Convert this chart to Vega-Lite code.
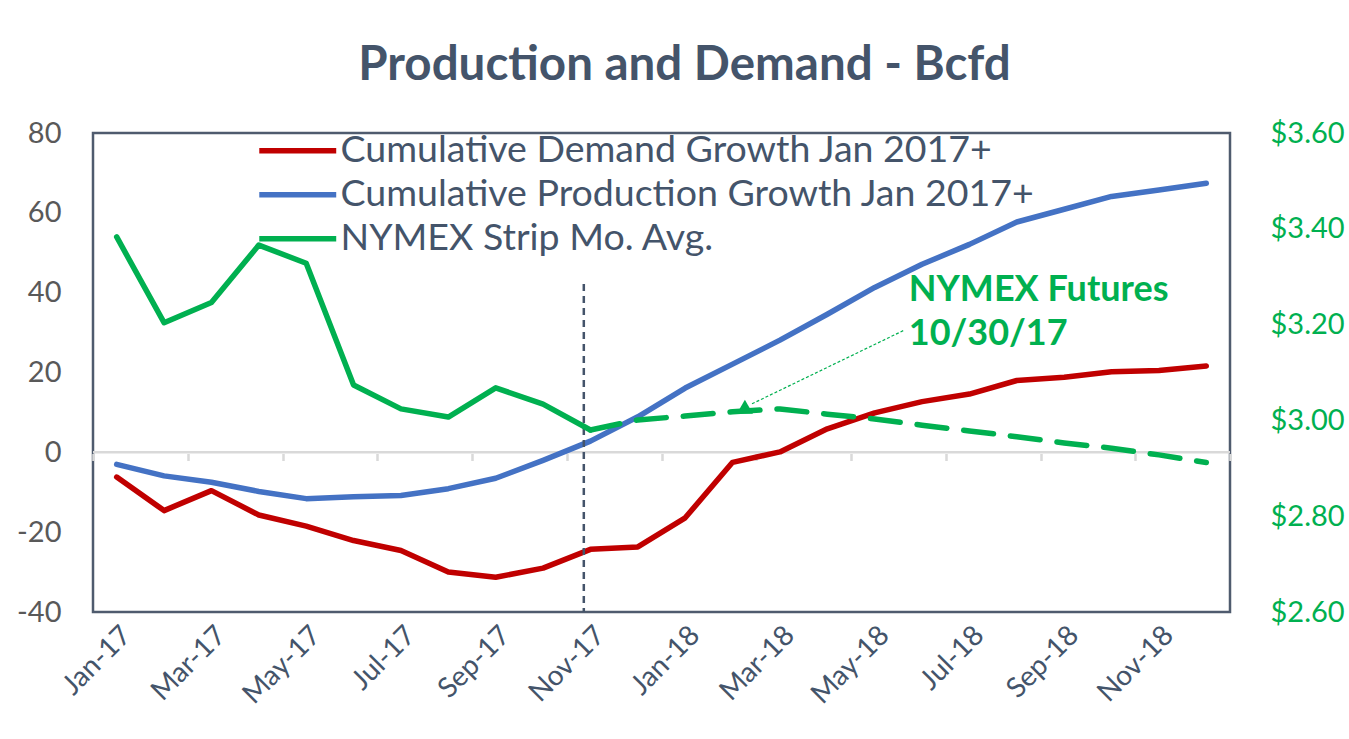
{
  "$schema": "https://vega.github.io/schema/vega-lite/v6.json",
  "width": 1137,
  "height": 479,
  "autosize": {"type": "none"},
  "padding": {"left": 93, "top": 133, "right": 119, "bottom": 127},
  "background": "white",
  "title": {
    "text": "Production and Demand - Bcfd",
    "font": "Lato",
    "fontSize": 47.5,
    "fontWeight": "bold",
    "color": "#44546A",
    "anchor": "middle",
    "frame": "group",
    "dx": 23,
    "offset": 30
  },
  "config": {
    "view": {"stroke": "#4F5B6E", "strokeWidth": 2.5},
    "font": "Lato"
  },
  "datasets": {
    "growth": [
      {"i": 0, "month": "Jan-17", "series": "Cumulative Demand Growth Jan 2017+", "value": -6.2},
      {"i": 1, "month": "Feb-17", "series": "Cumulative Demand Growth Jan 2017+", "value": -14.6},
      {"i": 2, "month": "Mar-17", "series": "Cumulative Demand Growth Jan 2017+", "value": -9.6},
      {"i": 3, "month": "Apr-17", "series": "Cumulative Demand Growth Jan 2017+", "value": -15.7},
      {"i": 4, "month": "May-17", "series": "Cumulative Demand Growth Jan 2017+", "value": -18.5},
      {"i": 5, "month": "Jun-17", "series": "Cumulative Demand Growth Jan 2017+", "value": -22.1},
      {"i": 6, "month": "Jul-17", "series": "Cumulative Demand Growth Jan 2017+", "value": -24.6},
      {"i": 7, "month": "Aug-17", "series": "Cumulative Demand Growth Jan 2017+", "value": -30.0},
      {"i": 8, "month": "Sep-17", "series": "Cumulative Demand Growth Jan 2017+", "value": -31.3},
      {"i": 9, "month": "Oct-17", "series": "Cumulative Demand Growth Jan 2017+", "value": -29.0},
      {"i": 10, "month": "Nov-17", "series": "Cumulative Demand Growth Jan 2017+", "value": -24.3},
      {"i": 11, "month": "Dec-17", "series": "Cumulative Demand Growth Jan 2017+", "value": -23.7},
      {"i": 12, "month": "Jan-18", "series": "Cumulative Demand Growth Jan 2017+", "value": -16.4},
      {"i": 13, "month": "Feb-18", "series": "Cumulative Demand Growth Jan 2017+", "value": -2.5},
      {"i": 14, "month": "Mar-18", "series": "Cumulative Demand Growth Jan 2017+", "value": 0.1},
      {"i": 15, "month": "Apr-18", "series": "Cumulative Demand Growth Jan 2017+", "value": 5.9},
      {"i": 16, "month": "May-18", "series": "Cumulative Demand Growth Jan 2017+", "value": 9.9},
      {"i": 17, "month": "Jun-18", "series": "Cumulative Demand Growth Jan 2017+", "value": 12.7},
      {"i": 18, "month": "Jul-18", "series": "Cumulative Demand Growth Jan 2017+", "value": 14.6},
      {"i": 19, "month": "Aug-18", "series": "Cumulative Demand Growth Jan 2017+", "value": 18.0},
      {"i": 20, "month": "Sep-18", "series": "Cumulative Demand Growth Jan 2017+", "value": 18.8},
      {"i": 21, "month": "Oct-18", "series": "Cumulative Demand Growth Jan 2017+", "value": 20.2},
      {"i": 22, "month": "Nov-18", "series": "Cumulative Demand Growth Jan 2017+", "value": 20.5},
      {"i": 23, "month": "Dec-18", "series": "Cumulative Demand Growth Jan 2017+", "value": 21.6},
      {"i": 0, "month": "Jan-17", "series": "Cumulative Production Growth Jan 2017+", "value": -3.0},
      {"i": 1, "month": "Feb-17", "series": "Cumulative Production Growth Jan 2017+", "value": -5.9},
      {"i": 2, "month": "Mar-17", "series": "Cumulative Production Growth Jan 2017+", "value": -7.5},
      {"i": 3, "month": "Apr-17", "series": "Cumulative Production Growth Jan 2017+", "value": -9.8},
      {"i": 4, "month": "May-17", "series": "Cumulative Production Growth Jan 2017+", "value": -11.6},
      {"i": 5, "month": "Jun-17", "series": "Cumulative Production Growth Jan 2017+", "value": -11.1},
      {"i": 6, "month": "Jul-17", "series": "Cumulative Production Growth Jan 2017+", "value": -10.8},
      {"i": 7, "month": "Aug-17", "series": "Cumulative Production Growth Jan 2017+", "value": -9.1},
      {"i": 8, "month": "Sep-17", "series": "Cumulative Production Growth Jan 2017+", "value": -6.5},
      {"i": 9, "month": "Oct-17", "series": "Cumulative Production Growth Jan 2017+", "value": -2.0},
      {"i": 10, "month": "Nov-17", "series": "Cumulative Production Growth Jan 2017+", "value": 2.8},
      {"i": 11, "month": "Dec-17", "series": "Cumulative Production Growth Jan 2017+", "value": 8.9},
      {"i": 12, "month": "Jan-18", "series": "Cumulative Production Growth Jan 2017+", "value": 16.1},
      {"i": 13, "month": "Feb-18", "series": "Cumulative Production Growth Jan 2017+", "value": 22.1},
      {"i": 14, "month": "Mar-18", "series": "Cumulative Production Growth Jan 2017+", "value": 28.1},
      {"i": 15, "month": "Apr-18", "series": "Cumulative Production Growth Jan 2017+", "value": 34.6},
      {"i": 16, "month": "May-18", "series": "Cumulative Production Growth Jan 2017+", "value": 41.3},
      {"i": 17, "month": "Jun-18", "series": "Cumulative Production Growth Jan 2017+", "value": 47.1},
      {"i": 18, "month": "Jul-18", "series": "Cumulative Production Growth Jan 2017+", "value": 52.1},
      {"i": 19, "month": "Aug-18", "series": "Cumulative Production Growth Jan 2017+", "value": 57.7},
      {"i": 20, "month": "Sep-18", "series": "Cumulative Production Growth Jan 2017+", "value": 60.9},
      {"i": 21, "month": "Oct-18", "series": "Cumulative Production Growth Jan 2017+", "value": 64.1},
      {"i": 22, "month": "Nov-18", "series": "Cumulative Production Growth Jan 2017+", "value": 65.7},
      {"i": 23, "month": "Dec-18", "series": "Cumulative Production Growth Jan 2017+", "value": 67.4}
    ],
    "nymex": [
      {"i": 0, "month": "Jan-17", "series": "NYMEX Strip Mo. Avg.", "price": 3.383},
      {"i": 1, "month": "Feb-17", "series": "NYMEX Strip Mo. Avg.", "price": 3.204},
      {"i": 2, "month": "Mar-17", "series": "NYMEX Strip Mo. Avg.", "price": 3.246},
      {"i": 3, "month": "Apr-17", "series": "NYMEX Strip Mo. Avg.", "price": 3.366},
      {"i": 4, "month": "May-17", "series": "NYMEX Strip Mo. Avg.", "price": 3.328},
      {"i": 5, "month": "Jun-17", "series": "NYMEX Strip Mo. Avg.", "price": 3.074},
      {"i": 6, "month": "Jul-17", "series": "NYMEX Strip Mo. Avg.", "price": 3.024},
      {"i": 7, "month": "Aug-17", "series": "NYMEX Strip Mo. Avg.", "price": 3.007},
      {"i": 8, "month": "Sep-17", "series": "NYMEX Strip Mo. Avg.", "price": 3.068},
      {"i": 9, "month": "Oct-17", "series": "NYMEX Strip Mo. Avg.", "price": 3.034},
      {"i": 10, "month": "Nov-17", "series": "NYMEX Strip Mo. Avg.", "price": 2.980},
      {"i": 11, "month": "Dec-17", "series": "NYMEX Strip Mo. Avg.", "price": 3.001},
      {"i": 12, "month": "Jan-18", "series": "NYMEX Strip Mo. Avg.", "price": 3.009},
      {"i": 13, "month": "Feb-18", "series": "NYMEX Strip Mo. Avg.", "price": 3.018},
      {"i": 14, "month": "Mar-18", "series": "NYMEX Strip Mo. Avg.", "price": 3.024},
      {"i": 15, "month": "Apr-18", "series": "NYMEX Strip Mo. Avg.", "price": 3.013},
      {"i": 16, "month": "May-18", "series": "NYMEX Strip Mo. Avg.", "price": 3.003},
      {"i": 17, "month": "Jun-18", "series": "NYMEX Strip Mo. Avg.", "price": 2.990},
      {"i": 18, "month": "Jul-18", "series": "NYMEX Strip Mo. Avg.", "price": 2.978},
      {"i": 19, "month": "Aug-18", "series": "NYMEX Strip Mo. Avg.", "price": 2.966},
      {"i": 20, "month": "Sep-18", "series": "NYMEX Strip Mo. Avg.", "price": 2.953},
      {"i": 21, "month": "Oct-18", "series": "NYMEX Strip Mo. Avg.", "price": 2.942},
      {"i": 22, "month": "Nov-18", "series": "NYMEX Strip Mo. Avg.", "price": 2.928},
      {"i": 23, "month": "Dec-18", "series": "NYMEX Strip Mo. Avg.", "price": 2.912}
    ],
    "zero": [{"level": 0}],
    "divider": [{"i": 9.86, "top": 42.2, "bottom": -40}],
    "callout": [{"i": 16.72, "value": 37.95, "label": "NYMEX Futures\n10/30/17"}],
    "leader": [{"i": 13.41, "value": 12.15, "i2": 16.64, "value2": 30.7}],
    "arrow": [{"i": 13.26, "value": 11.4}]
  },
  "layer": [
    {
      "layer": [
        {
          "data": {"name": "zero"},
          "mark": {"type": "rule", "color": "#D9D9D9", "strokeWidth": 2.5},
          "encoding": {
            "y": {"field": "level", "type": "quantitative", "scale": {"domain": [-40, 80], "nice": false}}
          }
        },
        {
          "data": {"name": "growth"},
          "mark": {"type": "line", "strokeWidth": 5.5, "strokeCap": "round", "strokeJoin": "round"},
          "encoding": {
            "x": {
              "field": "i",
              "type": "quantitative",
              "scale": {"domain": [-0.5, 23.5], "nice": false, "zero": false},
              "axis": {
                "title": null,
                "orient": "bottom",
                "values": [0, 2, 4, 6, 8, 10, 12, 14, 16, 18, 20, 22],
                "labelExpr": "['Jan-17','Feb-17','Mar-17','Apr-17','May-17','Jun-17','Jul-17','Aug-17','Sep-17','Oct-17','Nov-17','Dec-17','Jan-18','Feb-18','Mar-18','Apr-18','May-18','Jun-18','Jul-18','Aug-18','Sep-18','Oct-18','Nov-18','Dec-18'][datum.value]",
                "labelAngle": -45,
                "labelAlign": "right",
                "labelBaseline": "top",
                "labelFont": "Lato",
                "labelFontSize": 28,
                "labelColor": "#44546A",
                "labelPadding": 9,
                "ticks": false,
                "domain": false,
                "grid": false,
                "labelOverlap": false
              }
            },
            "y": {
              "field": "value",
              "type": "quantitative",
              "scale": {"domain": [-40, 80], "nice": false},
              "axis": {
                "title": null,
                "orient": "left",
                "values": [-40, -20, 0, 20, 40, 60, 80],
                "labelExpr": "'' + datum.value",
                "labelFont": "Lato",
                "labelFontSize": 29,
                "labelColor": "#595959",
                "labelPadding": 32,
                "ticks": false,
                "domain": false,
                "grid": false
              }
            },
            "color": {
              "field": "series",
              "type": "nominal",
              "scale": {
                "domain": ["Cumulative Demand Growth Jan 2017+", "Cumulative Production Growth Jan 2017+", "NYMEX Strip Mo. Avg."],
                "range": ["#C00000", "#4472C4", "#00B050"]
              },
              "legend": {
                "title": null,
                "orient": "none",
                "legendX": 186,
                "legendY": -1,
                "padding": 0,
                "symbolType": "M-4,0H4",
                "symbolSize": 370,
                "symbolStrokeWidth": 5.5,
                "labelFont": "Lato",
                "labelFontSize": 37.5,
                "labelColor": "#44546A",
                "labelOffset": 24,
                "labelLimit": 0,
                "rowPadding": 5
              }
            }
          }
        },
        {
          "data": {"name": "divider"},
          "mark": {"type": "rule", "color": "#44546A", "strokeWidth": 2.5, "strokeDash": [7, 5]},
          "encoding": {
            "x": {"field": "i", "type": "quantitative"},
            "y": {"field": "top", "type": "quantitative"},
            "y2": {"field": "bottom"}
          }
        },
        {
          "data": {"name": "leader"},
          "mark": {"type": "rule", "color": "#00B050", "strokeWidth": 1.2, "strokeDash": [3, 2]},
          "encoding": {
            "x": {"field": "i", "type": "quantitative"},
            "y": {"field": "value", "type": "quantitative"},
            "x2": {"field": "i2"},
            "y2": {"field": "value2"}
          }
        },
        {
          "data": {"name": "arrow"},
          "mark": {"type": "point", "shape": "triangle-up", "filled": true, "color": "#00B050", "size": 260, "opacity": 1},
          "encoding": {
            "x": {"field": "i", "type": "quantitative"},
            "y": {"field": "value", "type": "quantitative"}
          }
        },
        {
          "data": {"name": "callout"},
          "mark": {"type": "text", "align": "left", "baseline": "alphabetic", "lineBreak": "\n", "lineHeight": 44, "font": "Lato", "fontWeight": "bold", "fontSize": 36, "color": "#00B050"},
          "encoding": {
            "x": {"field": "i", "type": "quantitative"},
            "y": {"field": "value", "type": "quantitative"},
            "text": {"field": "label"}
          }
        }
      ]
    },
    {
      "data": {"name": "nymex"},
      "encoding": {
        "x": {
          "field": "i",
          "type": "quantitative",
          "axis": {
            "title": null,
            "orient": "bottom",
            "values": [-0.5, 1.5, 3.5, 5.5, 7.5, 9.5, 11.5, 13.5, 15.5, 17.5, 19.5, 21.5, 23.5],
            "labels": false,
            "domain": false,
            "grid": false,
            "ticks": true,
            "tickSize": 7,
            "tickWidth": 2.5,
            "tickColor": "#D9D9D9",
            "offset": -158.5
          }
        },
        "y": {
          "field": "price",
          "type": "quantitative",
          "scale": {"domain": [2.6, 3.6], "nice": false, "zero": false},
          "axis": {
            "title": null,
            "orient": "right",
            "values": [2.6, 2.8, 3.0, 3.2, 3.4, 3.6],
            "format": "$.2f",
            "labelFont": "Lato",
            "labelFontSize": 29,
            "labelColor": "#00B050",
            "labelPadding": 40,
            "ticks": false,
            "domain": false,
            "grid": false
          }
        },
        "color": {"field": "series", "type": "nominal"}
      },
      "layer": [
        {
          "transform": [{"filter": "datum.i <= 10"}],
          "mark": {"type": "line", "strokeWidth": 5.5, "strokeCap": "round", "strokeJoin": "round"}
        },
        {
          "transform": [{"filter": "datum.i >= 10"}],
          "mark": {"type": "line", "strokeWidth": 5.5, "strokeCap": "round", "strokeJoin": "round", "strokeDash": [30, 17]}
        }
      ]
    }
  ],
  "resolve": {"scale": {"y": "independent"}, "axis": {"x": "independent"}}
}
